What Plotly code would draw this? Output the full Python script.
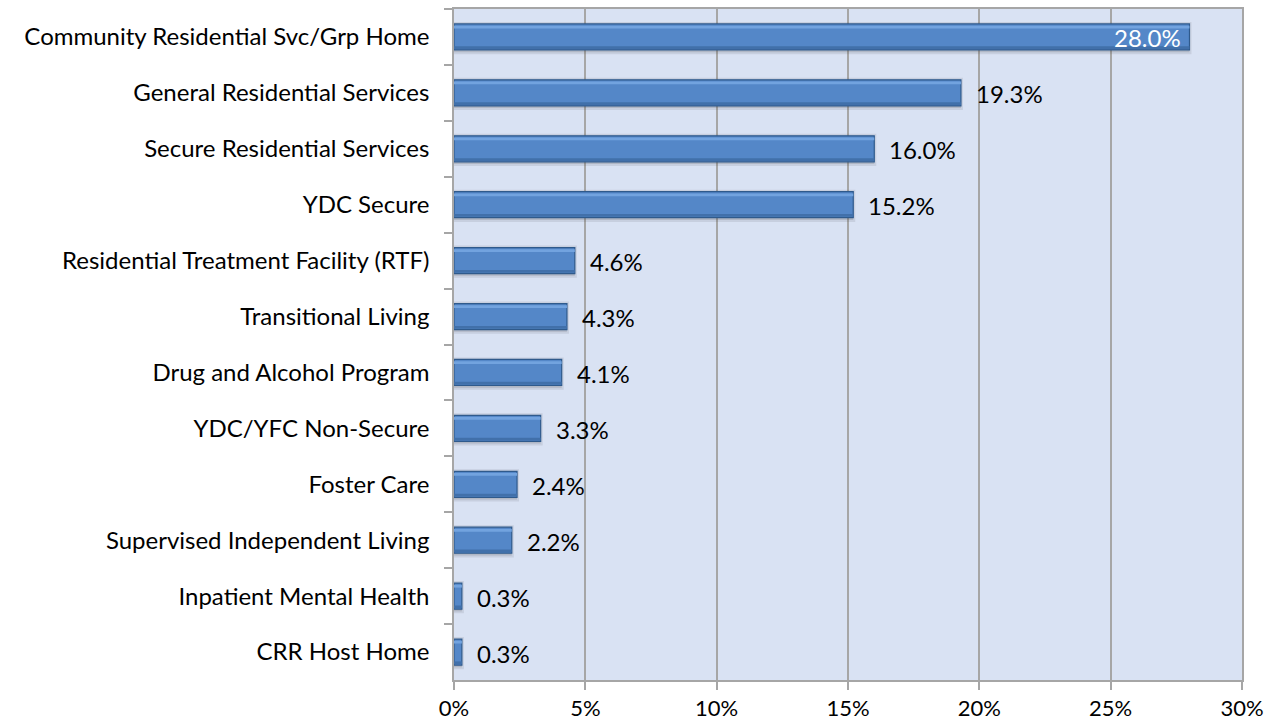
import plotly.graph_objects as go

categories = [
    "Community Residential Svc/Grp Home",
    "General Residential Services",
    "Secure Residential Services",
    "YDC Secure",
    "Residential Treatment Facility (RTF)",
    "Transitional Living",
    "Drug and Alcohol Program",
    "YDC/YFC Non-Secure",
    "Foster Care",
    "Supervised Independent Living",
    "Inpatient Mental Health",
    "CRR Host Home",
]
shares = [28.0, 19.3, 16.0, 15.2, 4.6, 4.3, 4.1, 3.3, 2.4, 2.2, 0.3, 0.3]
tick_values = [0, 5, 10, 15, 20, 25, 30]
tick_labels = ["0%", "5%", "10%", "15%", "20%", "25%", "30%"]

FONT = "Lato"
FONT_SIZE = 24
GRID = "#a6a6a6"
BAR_W = 0.465

fig = go.Figure()

# soft drop shadow behind each bar
fig.add_trace(go.Bar(
    y=categories, x=shares, orientation="h",
    width=BAR_W + 0.04, offset=-BAR_W / 2,
    marker=dict(color="rgba(70,70,80,0.18)",
                line=dict(color="rgba(70,70,80,0.12)", width=4)),
    hoverinfo="skip",
))
# main bar body
fig.add_trace(go.Bar(
    y=categories, x=shares, orientation="h",
    width=BAR_W, offset=-BAR_W / 2,
    marker=dict(color="#5487c8", line=dict(color="#2f5a8c", width=1.2)),
    hoverinfo="skip",
))
# light bevel along the top edge
fig.add_trace(go.Bar(
    y=categories, x=shares, orientation="h",
    width=0.05, offset=-BAR_W / 2 + 0.03,
    marker=dict(color="#72a3df", line=dict(width=0)),
    hoverinfo="skip",
))
# darker band along the bottom edge
fig.add_trace(go.Bar(
    y=categories, x=shares, orientation="h",
    width=0.05, offset=BAR_W / 2 - 0.065,
    marker=dict(color="#4170aa", line=dict(width=0)),
    hoverinfo="skip",
))

# value labels: inside the longest bar, just past the end for the rest
longest = max(shares)
annotations = []
for cat, v in zip(categories, shares):
    inside = v == longest
    annotations.append(dict(
        x=v, y=cat, xref="x", yref="y",
        text=f"{v:.1f}%",
        showarrow=False,
        xanchor="right" if inside else "left",
        xshift=-6 if inside else 13,
        yshift=-1,
        font=dict(family=FONT, size=FONT_SIZE, color="white" if inside else "black"),
    ))

fig.update_layout(
    width=1287, height=726,
    margin=dict(l=454, r=45, t=9, b=46),
    paper_bgcolor="white",
    plot_bgcolor="#d9e2f3",
    showlegend=False,
    barmode="overlay",
    annotations=annotations,
    font=dict(family=FONT, size=FONT_SIZE, color="black"),
    xaxis=dict(
        range=[0, 30],
        tickvals=tick_values,
        ticktext=tick_labels,
        tickfont=dict(size=22),
        showgrid=True, gridcolor=GRID, gridwidth=1.5,
        showline=True, linecolor=GRID, linewidth=1.5, mirror=True,
        ticks="outside", ticklen=8, tickcolor=GRID, tickwidth=1.5,
        ticklabelstandoff=0,
        zeroline=False,
        automargin=False,
        fixedrange=True,
    ),
    yaxis=dict(
        autorange="reversed",
        showline=True, linecolor=GRID, linewidth=1.5, mirror=True,
        ticks="outside", ticklen=8, tickcolor=GRID, tickwidth=1.5,
        tickson="boundaries",
        ticklabelstandoff=18,
        showgrid=False,
        automargin=False,
        fixedrange=True,
    ),
)

fig.write_html("out.html")
